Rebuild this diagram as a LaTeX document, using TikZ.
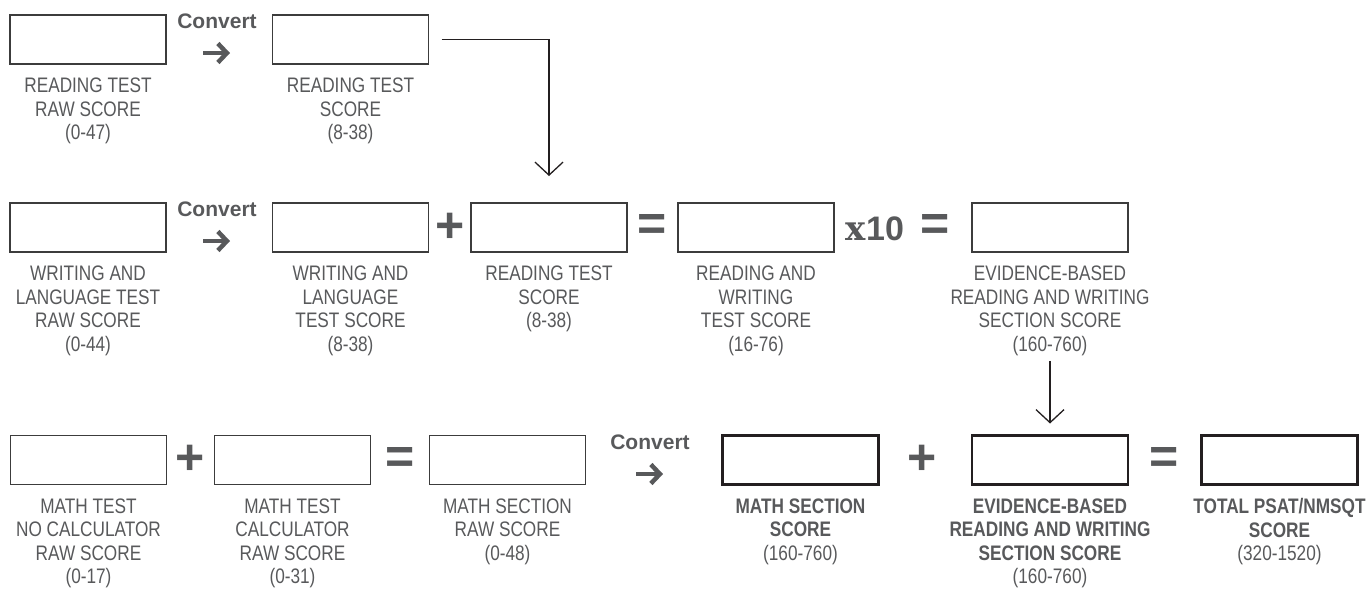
\documentclass[tikz,border=0pt]{standalone}
\usepackage{fontspec}
\setmainfont{Liberation Sans}
\newfontfamily\condfont{Liberation Sans}[FakeStretch=0.82]
\newfontfamily\slabfont{DejaVu Serif}
\usetikzlibrary{positioning,arrows.meta}
\definecolor{mygray}{RGB}{88,89,91}
\definecolor{myline}{RGB}{60,60,60}
\definecolor{myblack}{RGB}{35,31,32}

\tikzset{
  scorebox/.style={draw=myline, line width=1.2pt, minimum width=156pt, minimum height=49pt, inner sep=0pt, outer sep=0pt},
  finalbox/.style={scorebox, draw=myblack, line width=2.6pt},
  lbl/.style={text=mygray, align=center, inner sep=0pt, font=\condfont\fontsize{21}{23.5}\selectfont},
  op/.style={text=mygray, inner sep=0pt, font=\bfseries\fontsize{50}{50}\selectfont},
  conv/.style={text=mygray, inner sep=0pt, font=\bfseries\fontsize{21}{21}\selectfont},
  cvarrow/.style={draw=mygray, line width=4.5pt, -{Straight Barb[length=9pt,width=19pt]}},
  flow/.style={draw=myblack, line width=1.3pt, -{Straight Barb[length=13pt,width=28pt]}},
}

\begin{document}
\begin{tikzpicture}[x=1pt,y=-1pt]
        \useasboundingbox (0,0) rectangle (1371,590);
        % reading row
        \node[scorebox] (b11) at (88,39.5) {};
        \node[lbl, below=14pt of b11] (l11) {READING TEST\\RAW SCORE\\(0-47)};
        \node[conv] (cv1) at (217,21.5) {Convert};
        \node[scorebox] (b12) at (350.5,39.5) {};
        \node[lbl, below=14pt of b12] (l12) {READING TEST\\SCORE\\(8-38)};
        % writing row
        \node[scorebox] (b21) at (88,227.5) {};
        \node[lbl, below=14pt of b21] (l21) {WRITING AND\\LANGUAGE TEST\\RAW SCORE\\(0-44)};
        \node[conv] (cv2) at (217,209.5) {Convert};
        \node[scorebox] (b22) at (350.5,227.5) {};
        \node[lbl, below=14pt of b22] (l22) {WRITING AND\\LANGUAGE\\TEST SCORE\\(8-38)};
        \node[op] (p21) at (450,227.5) {+};
        \node[scorebox] (b23) at (549,227.5) {};
        \node[lbl, below=14pt of b23] (l23) {READING TEST\\SCORE\\(8-38)};
        \node[op] (e21) at (652.5,227.5) {=};
        \node[scorebox] (b24) at (756,227.5) {};
        \node[lbl, below=14pt of b24] (l24) {READING AND\\WRITING\\TEST SCORE\\(16-76)};
        \node[text=mygray, inner sep=0pt, font=\bfseries\fontsize{34}{34}\selectfont] (x10) at (875,228.5) {{\slabfont\bfseries x}10};
        \node[op] (e22) at (935,227.5) {=};
        \node[scorebox] (b25) at (1050,227.5) {};
        \node[lbl, below=14pt of b25] (l25) {EVIDENCE-BASED\\READING AND WRITING\\SECTION SCORE\\(160-760)};
        % math row
        \node[scorebox] (b31) at (88.5,460) {};
        \node[lbl, below=14pt of b31] (l31) {MATH TEST\\NO CALCULATOR\\RAW SCORE\\(0-17)};
        \node[op] (p31) at (190,460) {+};
        \node[scorebox] (b32) at (292.5,460) {};
        \node[lbl, below=14pt of b32] (l32) {MATH TEST\\CALCULATOR\\RAW SCORE\\(0-31)};
        \node[op] (e31) at (400,460) {=};
        \node[scorebox] (b33) at (507.5,460) {};
        \node[lbl, below=14pt of b33] (l33) {MATH SECTION\\RAW SCORE\\(0-48)};
        \node[conv] (cv3) at (650,442.5) {Convert};
        \node[finalbox] (b34) at (800.5,460) {};
        \node[lbl, below=14pt of b34] (l34) {{\bfseries MATH SECTION}\\{\bfseries SCORE}\\(160-760)};
        \node[op] (p32) at (922,460) {+};
        \node[finalbox] (b35) at (1050,460) {};
        \node[lbl, below=14pt of b35] (l35) {{\bfseries EVIDENCE-BASED}\\{\bfseries READING AND WRITING}\\{\bfseries SECTION SCORE}\\(160-760)};
        \node[op] (e32) at (1164,460) {=};
        \node[finalbox] (b36) at (1279.5,460) {};
        \node[lbl, below=14pt of b36] (l36) {{\bfseries TOTAL PSAT/NMSQT}\\{\bfseries SCORE}\\(320-1520)};
        % arrows
        \foreach \c in {cv1,cv2,cv3}
            \draw[cvarrow] ([shift={(-14,31.5)}]\c.center) -- ++(27,0);
        \draw[flow] ([xshift=13pt]b12.east) -| ([yshift=27pt]b23.north);
        \draw[flow, shorten <=5pt, shorten >=12pt] (l25) -- (b35);
\end{tikzpicture}
\end{document}
